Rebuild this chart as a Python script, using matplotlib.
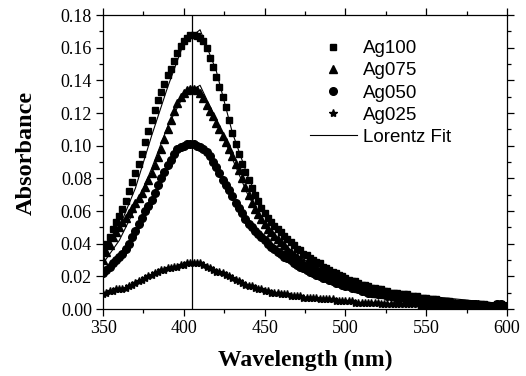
import numpy as np
import matplotlib
matplotlib.use("Agg")
import matplotlib.pyplot as plt
from matplotlib.ticker import MultipleLocator, FormatStrFormatter

# measured spectra, one point every 2 nm from 350 to 600 nm
wavelength = np.arange(350, 601, 2)

ag100 = [0.036, 0.040, 0.044, 0.049, 0.053, 0.057, 0.061, 0.066, 0.072, 0.078,
         0.083, 0.089, 0.095, 0.102, 0.109, 0.116, 0.122, 0.128, 0.133, 0.138,
         0.143, 0.147, 0.152, 0.157, 0.161, 0.164, 0.166, 0.168, 0.168, 0.167,
         0.166, 0.164, 0.160, 0.154, 0.148, 0.142, 0.136, 0.130, 0.124, 0.116,
         0.108, 0.101, 0.095, 0.089, 0.084, 0.079, 0.074, 0.070, 0.066, 0.062,
         0.059, 0.056, 0.053, 0.051, 0.049, 0.047, 0.045, 0.043, 0.041, 0.039,
         0.037, 0.036, 0.034, 0.033, 0.031, 0.030, 0.029, 0.028, 0.026, 0.025,
         0.024, 0.023, 0.022, 0.021, 0.020, 0.019, 0.018, 0.017, 0.017, 0.016,
         0.015, 0.015, 0.014, 0.013, 0.013, 0.012, 0.012, 0.011, 0.011, 0.010,
         0.010, 0.010, 0.009, 0.009, 0.009, 0.008, 0.008, 0.008, 0.007, 0.007,
         0.007, 0.006, 0.006, 0.006, 0.005, 0.005, 0.005, 0.005, 0.004, 0.004,
         0.004, 0.004, 0.004, 0.003, 0.003, 0.003, 0.003, 0.003, 0.003, 0.002,
         0.002, 0.002, 0.003, 0.003, 0.002, 0.002]

ag075 = [0.030, 0.035, 0.039, 0.044, 0.047, 0.050, 0.053, 0.056, 0.059, 0.062,
         0.065, 0.068, 0.071, 0.075, 0.079, 0.083, 0.088, 0.093, 0.098, 0.104,
         0.110, 0.116, 0.121, 0.126, 0.130, 0.132, 0.134, 0.135, 0.135, 0.134,
         0.132, 0.129, 0.125, 0.121, 0.118, 0.114, 0.110, 0.106, 0.102, 0.098,
         0.094, 0.089, 0.085, 0.080, 0.075, 0.070, 0.065, 0.061, 0.058, 0.055,
         0.052, 0.049, 0.047, 0.045, 0.043, 0.041, 0.039, 0.037, 0.035, 0.033,
         0.032, 0.030, 0.029, 0.028, 0.027, 0.026, 0.025, 0.024, 0.023, 0.022,
         0.021, 0.020, 0.019, 0.018, 0.017, 0.016, 0.015, 0.015, 0.014, 0.013,
         0.013, 0.012, 0.011, 0.011, 0.010, 0.010, 0.010, 0.009, 0.009, 0.009,
         0.008, 0.008, 0.008, 0.008, 0.007, 0.007, 0.007, 0.006, 0.006, 0.006,
         0.006, 0.005, 0.005, 0.005, 0.005, 0.004, 0.004, 0.004, 0.004, 0.004,
         0.003, 0.003, 0.003, 0.003, 0.003, 0.003, 0.003, 0.002, 0.002, 0.002,
         0.002, 0.002, 0.002, 0.002, 0.002, 0.002]

ag050 = [0.022, 0.024, 0.026, 0.028, 0.030, 0.032, 0.034, 0.037, 0.040, 0.044,
         0.048, 0.052, 0.056, 0.060, 0.063, 0.067, 0.071, 0.076, 0.080, 0.084,
         0.088, 0.091, 0.095, 0.098, 0.099, 0.100, 0.101, 0.101, 0.101, 0.100,
         0.099, 0.098, 0.096, 0.094, 0.090, 0.087, 0.083, 0.079, 0.076, 0.073,
         0.069, 0.065, 0.062, 0.059, 0.055, 0.052, 0.050, 0.048, 0.046, 0.044,
         0.042, 0.040, 0.038, 0.037, 0.035, 0.034, 0.032, 0.031, 0.030, 0.028,
         0.027, 0.026, 0.025, 0.024, 0.023, 0.022, 0.021, 0.020, 0.019, 0.019,
         0.018, 0.017, 0.016, 0.016, 0.015, 0.014, 0.014, 0.013, 0.013, 0.012,
         0.011, 0.011, 0.010, 0.010, 0.010, 0.009, 0.009, 0.009, 0.008, 0.008,
         0.008, 0.007, 0.007, 0.007, 0.007, 0.006, 0.006, 0.006, 0.006, 0.005,
         0.005, 0.005, 0.005, 0.005, 0.004, 0.004, 0.004, 0.004, 0.004, 0.003,
         0.003, 0.003, 0.003, 0.003, 0.003, 0.003, 0.002, 0.002, 0.002, 0.002,
         0.002, 0.002, 0.003, 0.003, 0.002, 0.002]

ag025 = [0.009, 0.010, 0.011, 0.011, 0.012, 0.012, 0.012, 0.013, 0.014, 0.015,
         0.016, 0.017, 0.018, 0.019, 0.020, 0.021, 0.022, 0.023, 0.024, 0.024,
         0.025, 0.025, 0.026, 0.026, 0.027, 0.027, 0.028, 0.028, 0.028, 0.028,
         0.028, 0.027, 0.026, 0.025, 0.024, 0.023, 0.023, 0.022, 0.021, 0.020,
         0.019, 0.018, 0.017, 0.016, 0.015, 0.014, 0.014, 0.013, 0.012, 0.012,
         0.011, 0.011, 0.010, 0.010, 0.010, 0.009, 0.009, 0.009, 0.008, 0.008,
         0.008, 0.008, 0.007, 0.007, 0.007, 0.007, 0.007, 0.006, 0.006, 0.006,
         0.006, 0.006, 0.005, 0.005, 0.005, 0.005, 0.005, 0.005, 0.004, 0.004,
         0.004, 0.004, 0.004, 0.004, 0.004, 0.004, 0.003, 0.003, 0.003, 0.003,
         0.003, 0.003, 0.003, 0.003, 0.003, 0.003, 0.003, 0.003, 0.002, 0.002,
         0.002, 0.002, 0.002, 0.002, 0.002, 0.002, 0.002, 0.002, 0.002, 0.002,
         0.002, 0.002, 0.002, 0.002, 0.002, 0.002, 0.002, 0.002, 0.002, 0.002,
         0.002, 0.002, 0.003, 0.003, 0.002, 0.002]

# Lorentz fits, every 10 nm
fit_wavelength = np.arange(350, 601, 10)
fit100 = [0.033, 0.050, 0.074, 0.106, 0.136, 0.163, 0.171, 0.146, 0.108, 0.080,
          0.060, 0.047, 0.037, 0.030, 0.024, 0.020, 0.016, 0.013, 0.011, 0.009,
          0.008, 0.007, 0.006, 0.005, 0.004, 0.004]
fit075 = [0.028, 0.042, 0.062, 0.086, 0.112, 0.131, 0.137, 0.116, 0.092, 0.069,
          0.053, 0.041, 0.033, 0.027, 0.022, 0.018, 0.015, 0.012, 0.010, 0.009,
          0.007, 0.006, 0.005, 0.005, 0.004, 0.004]
fit050 = [0.021, 0.030, 0.044, 0.066, 0.087, 0.100, 0.100, 0.086, 0.068, 0.052,
          0.041, 0.033, 0.027, 0.022, 0.018, 0.015, 0.012, 0.010, 0.009, 0.007,
          0.006, 0.005, 0.005, 0.004, 0.004, 0.003]
fit025 = [0.008, 0.011, 0.015, 0.020, 0.024, 0.027, 0.028, 0.024, 0.019, 0.015,
          0.012, 0.009, 0.008, 0.007, 0.006, 0.005, 0.004, 0.004, 0.003, 0.003,
          0.003, 0.002, 0.002, 0.002, 0.002, 0.002]

peak_line = 405

plt.rcParams['font.family'] = 'Liberation Serif'

fig = plt.figure(figsize=(5.26, 3.76), dpi=100)
ax = fig.add_axes([0.196, 0.178, 0.768, 0.782])

ax.plot(wavelength, ag100, 's', color='k', ms=5.0, label='Ag100')
ax.plot(wavelength, ag075, '^', color='k', ms=5.5, label='Ag075')
ax.plot(wavelength, ag050, 'o', color='k', ms=5.5, label='Ag050')
ax.plot(wavelength, ag025, '*', color='k', ms=6.0, label='Ag025')
ax.plot(fit_wavelength, fit100, '-', color='k', lw=0.8, label='Lorentz Fit')
for f in [fit075, fit050, fit025]:
    ax.plot(fit_wavelength, f, '-', color='k', lw=0.8)
ax.axvline(peak_line, color='k', lw=0.9)

ax.set_xlim(350, 600)
ax.set_ylim(0, 0.18)
ax.xaxis.set_major_locator(MultipleLocator(50))
ax.xaxis.set_minor_locator(MultipleLocator(25))
ax.yaxis.set_major_locator(MultipleLocator(0.02))
ax.yaxis.set_minor_locator(MultipleLocator(0.01))
ax.yaxis.set_major_formatter(FormatStrFormatter('%.2f'))

ax.tick_params(which='both', direction='out', top=True, right=True,
               labeltop=False, labelright=False, width=0.9, labelsize=13)
ax.tick_params(which='major', length=5, pad=3)
ax.tick_params(which='minor', length=3)
for sp in ax.spines.values():
    sp.set_linewidth(0.9)

ax.set_xlabel('Wavelength (nm)', fontweight='bold', fontsize=17, labelpad=9)
ax.set_ylabel('Absorbance', fontweight='bold', fontsize=17.5)
ax.yaxis.set_label_coords(-0.163, 0.53)

leg = ax.legend(loc='upper left', bbox_to_anchor=(0.493, 0.94), frameon=False,
                prop={'family': 'Liberation Sans', 'size': 13.5},
                handlelength=2.5, handletextpad=0.35, labelspacing=0.27,
                borderaxespad=0)

fig.savefig('out.png', dpi=100)
